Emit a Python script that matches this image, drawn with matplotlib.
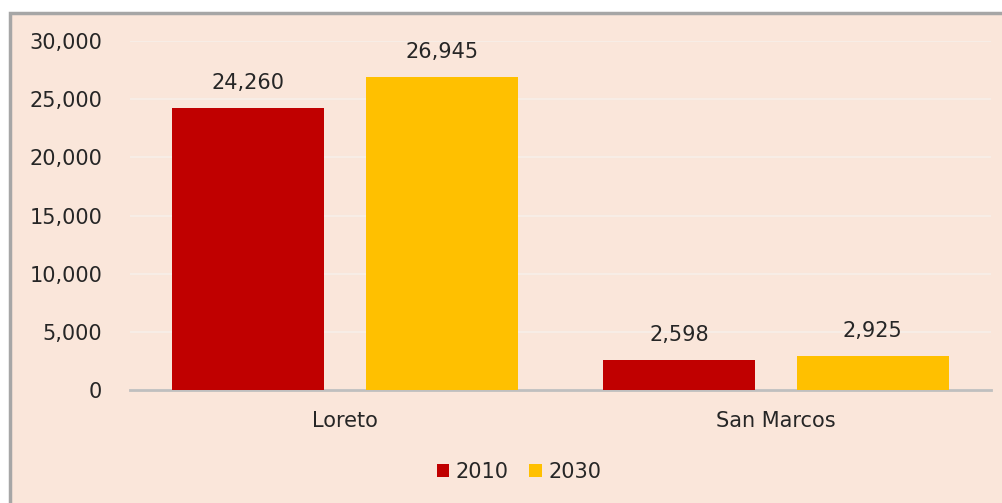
import matplotlib
matplotlib.use("Agg")
import matplotlib.pyplot as plt
import numpy as np
from matplotlib.patches import Rectangle

categories = ["Loreto", "San Marcos"]
years = ["2010", "2030"]
values_2010 = [24260, 2598]
values_2030 = [26945, 2925]

C_BG = "#FAE6DA"
C_2010 = "#C00000"
C_2030 = "#FFC000"

plt.rcParams["font.family"] = ["DejaVu Sans"]

fig = plt.figure(figsize=(10.02, 5.03), dpi=100)
fig.patch.set_facecolor("white")
# panel de fondo con borde gris
fig.patches.append(Rectangle((10 / 1002, -0.1), 1.1, (503 - 13) / 503 + 0.1,
                             transform=fig.transFigure, facecolor=C_BG,
                             edgecolor="#A6A6A6", linewidth=2.5, zorder=-5))

ax = fig.add_axes([130 / 1002, (503 - 390) / 503, 861 / 1002, 349 / 503])
ax.set_facecolor("none")
ax.set_zorder(2)

x = np.arange(len(categories))
w = 0.353
off = 0.225
bars1 = ax.bar(x - off, values_2010, w, color=C_2010, label=years[0], zorder=3)
bars2 = ax.bar(x + off, values_2030, w, color=C_2030, label=years[1], zorder=3)

for bars in (bars1, bars2):
    for b in bars:
        v = b.get_height()
        ax.text(b.get_x() + b.get_width() / 2, v + 1250, f"{v:,.0f}",
                ha="center", va="bottom", fontsize=15, color="#262626")

ax.set_xlim(-0.5, 1.5)
ax.set_ylim(0, 30000)
ax.set_yticks(np.arange(0, 30001, 5000))
ax.set_yticklabels([f"{t:,}" for t in range(0, 30001, 5000)])
ax.set_xticks(x)
ax.set_xticklabels(categories)
ax.tick_params(axis="both", length=0, labelsize=15, colors="#262626")
ax.tick_params(axis="y", pad=20)
ax.tick_params(axis="x", pad=15)
ax.grid(axis="y", color="#F7EDE6", linewidth=1.5, zorder=0)
for s in ("top", "right", "left"):
    ax.spines[s].set_visible(False)
ax.spines["bottom"].set_color("#BFBFBF")
ax.spines["bottom"].set_linewidth(2)

leg = fig.legend(loc="center", bbox_to_anchor=(519 / 1002, 31 / 503), ncol=2,
                 frameon=False, fontsize=15, handlelength=0.6, handleheight=0.6,
                 handletextpad=0.3, columnspacing=1.0)
for t in leg.get_texts():
    t.set_color("#262626")

fig.savefig("out.png", dpi=100, facecolor=fig.get_facecolor())
